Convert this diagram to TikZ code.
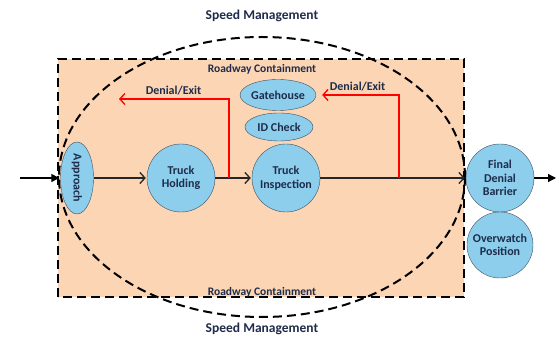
\documentclass[tikz,border=0pt]{standalone}
\usepackage{fontspec}
\setmainfont{Carlito}
\usetikzlibrary{positioning,shapes.geometric,arrows.meta}
\definecolor{peach}{RGB}{251,213,180}
\definecolor{nodec}{RGB}{140,206,236}
\definecolor{edgec}{RGB}{62,78,96}
\definecolor{txtc}{RGB}{30,44,74}

\begin{document}
\begin{tikzpicture}[x=1pt,y=1pt,shorten >=1pt,node distance=105pt,on grid,auto,
  every node/.style={font=\bfseries\fontsize{12}{13.5}\selectfont,text=txtc,align=center},
  stop/.style={circle,draw=edgec,fill=nodec,minimum size=68pt,inner sep=0pt},
  booth/.style={ellipse,draw=edgec,fill=nodec,minimum width=68pt,minimum height=31pt,inner sep=0pt},
  flow/.style={draw=black!85,line width=1.3pt,-{Straight Barb[length=5pt,width=11pt]}},
  feed/.style={draw=black,line width=1.3pt,-{Triangle[length=8pt,width=8pt]}},
  deny/.style={draw=red,line width=1.3pt,-{Straight Barb[length=5pt,width=11pt]}},
  zone/.style={line width=2pt,dash pattern=on 9pt off 5pt}]
\useasboundingbox (0,0) rectangle (559,337);
% containment and speed zones
\draw[zone,fill=peach] (58,40) rectangle (464,278);
\draw[zone] (262,160) ellipse [x radius=203,y radius=140];
\node[font=\bfseries\fontsize{13.5}{15}\selectfont] (sm_top) at (262,321) {Speed Management};
\node[font=\bfseries\fontsize{13.5}{15}\selectfont] (sm_bot) at (262,8) {Speed Management};
\node[font=\bfseries\fontsize{11.5}{13}\selectfont] (rc_top) at (262,268) {Roadway Containment};
\node[font=\bfseries\fontsize{11.5}{13}\selectfont] (rc_bot) at (262,45) {Roadway Containment};

% stations
\node[booth,rotate=-90,minimum width=72pt,minimum height=33pt] (a_app) at (77,159) {Approach};
\node[stop] (t_hold) [right=104pt of a_app] {Truck\\Holding};
\node[stop] (t_insp) [right=105pt of t_hold] {Truck\\Inspection};
\node[booth] (g_house) at (278,242) {Gatehouse};
\node[booth,minimum height=28pt] (id_chk) at (279,210) {ID Check};
\node[stop] (f_bar) at (500,159) {Final\\Denial\\Barrier};
\node[stop,minimum size=66pt] (o_pos) [below=67pt of f_bar] {Overwatch\\Position};

\coordinate (c_in) at (20,159);
\coordinate (c_out) at (557,159);
\coordinate (d_one) at (229,159);
\coordinate (d_one_end) at (118,238);
\coordinate (d_two) at (399,159);

\draw[feed] (c_in) -- (a_app);
\path (a_app) edge[flow] (t_hold)
      (t_hold) edge[flow] (t_insp)
      (t_insp) edge[flow] (f_bar);
\draw[feed] (f_bar) -- (c_out);

% denial exits
\draw[deny] (d_one) |- node[pos=0.75,above] {Denial/Exit} (d_one_end);
\draw[deny,shorten >=6pt] (d_two) |- node[pos=0.75,above] {Denial/Exit} (g_house);
\end{tikzpicture}
\end{document}
